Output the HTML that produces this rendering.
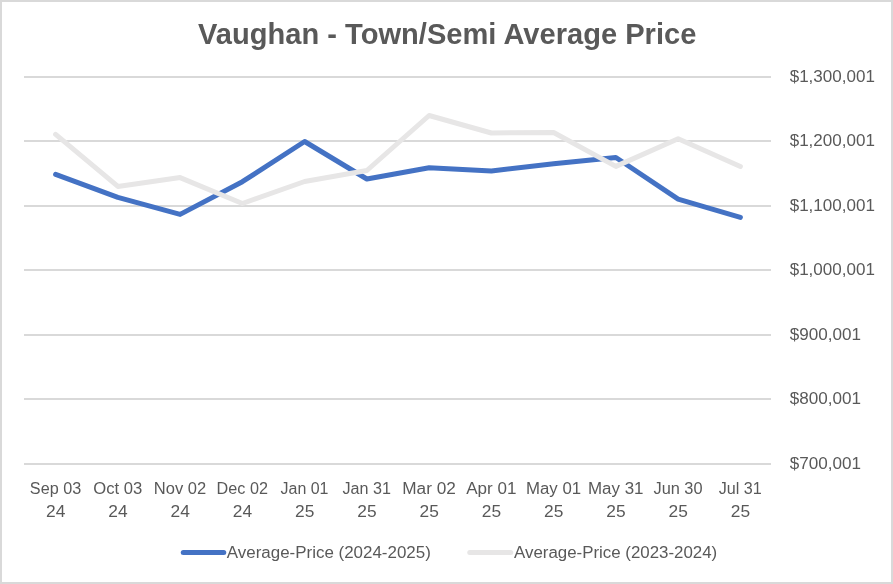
<!DOCTYPE html>
<html><head><meta charset="utf-8"><title>Vaughan - Town/Semi Average Price</title>
<style>html,body{margin:0;padding:0;background:#fff;}svg{display:block;will-change:transform;}text{font-family:"Liberation Sans",sans-serif;}</style></head><body>
<svg width="893" height="584" viewBox="0 0 893 584">
<rect x="0" y="0" width="893" height="584" fill="#ffffff"/>
<rect x="1" y="1" width="891" height="582" fill="none" stroke="#d9d9d9" stroke-width="2"/>
<rect x="24" y="76" width="747" height="2" fill="#d9d9d9"/>
<rect x="24" y="140" width="747" height="2" fill="#d9d9d9"/>
<rect x="24" y="205" width="747" height="2" fill="#d9d9d9"/>
<rect x="24" y="269" width="747" height="2" fill="#d9d9d9"/>
<rect x="24" y="334" width="747" height="2" fill="#d9d9d9"/>
<rect x="24" y="398" width="747" height="2" fill="#d9d9d9"/>
<rect x="24" y="463" width="747" height="2" fill="#d9d9d9"/>
<polyline points="55.62,174.40 117.88,197.40 180.12,214.40 242.38,181.70 304.62,141.50 366.88,179.00 429.12,167.70 491.38,171.00 553.62,163.70 615.88,157.50 678.12,199.10 740.38,217.40" fill="none" stroke="#4472c4" stroke-width="5" stroke-linecap="round" stroke-linejoin="round"/>
<polyline points="55.62,134.30 117.88,186.40 180.12,177.60 242.38,203.50 304.62,181.50 366.88,170.50 429.12,115.50 491.38,133.00 553.62,132.50 615.88,166.40 678.12,138.70 740.38,166.50" fill="none" stroke="#e7e6e6" stroke-width="5" stroke-linecap="round" stroke-linejoin="round"/>
<text x="447.2" y="43.8" text-anchor="middle" font-size="29.6" font-weight="bold" fill="#595959" textLength="498.3" lengthAdjust="spacingAndGlyphs">Vaughan - Town/Semi Average Price</text>
<text x="789.7" y="82.3" font-size="16" fill="#595959" textLength="85.2" lengthAdjust="spacingAndGlyphs">$1,300,001</text>
<text x="789.7" y="146.3" font-size="16" fill="#595959" textLength="85.2" lengthAdjust="spacingAndGlyphs">$1,200,001</text>
<text x="789.7" y="211.3" font-size="16" fill="#595959" textLength="85.2" lengthAdjust="spacingAndGlyphs">$1,100,001</text>
<text x="789.7" y="275.3" font-size="16" fill="#595959" textLength="85.2" lengthAdjust="spacingAndGlyphs">$1,000,001</text>
<text x="789.7" y="340.3" font-size="16" fill="#595959" textLength="71.2" lengthAdjust="spacingAndGlyphs">$900,001</text>
<text x="789.7" y="404.3" font-size="16" fill="#595959" textLength="71.2" lengthAdjust="spacingAndGlyphs">$800,001</text>
<text x="789.7" y="469.3" font-size="16" fill="#595959" textLength="71.2" lengthAdjust="spacingAndGlyphs">$700,001</text>
<text x="29.88" y="493.5" font-size="16" fill="#595959" textLength="51.3" lengthAdjust="spacingAndGlyphs">Sep 03</text>
<text x="46.08" y="516.6" font-size="16" fill="#595959" textLength="19.3" lengthAdjust="spacingAndGlyphs">24</text>
<text x="93.28" y="493.5" font-size="16" fill="#595959" textLength="49.0" lengthAdjust="spacingAndGlyphs">Oct 03</text>
<text x="108.32" y="516.6" font-size="16" fill="#595959" textLength="19.3" lengthAdjust="spacingAndGlyphs">24</text>
<text x="153.83" y="493.5" font-size="16" fill="#595959" textLength="52.4" lengthAdjust="spacingAndGlyphs">Nov 02</text>
<text x="170.57" y="516.6" font-size="16" fill="#595959" textLength="19.3" lengthAdjust="spacingAndGlyphs">24</text>
<text x="216.62" y="493.5" font-size="16" fill="#595959" textLength="51.3" lengthAdjust="spacingAndGlyphs">Dec 02</text>
<text x="232.82" y="516.6" font-size="16" fill="#595959" textLength="19.3" lengthAdjust="spacingAndGlyphs">24</text>
<text x="280.57" y="493.5" font-size="16" fill="#595959" textLength="47.9" lengthAdjust="spacingAndGlyphs">Jan 01</text>
<text x="295.08" y="516.6" font-size="16" fill="#595959" textLength="19.3" lengthAdjust="spacingAndGlyphs">25</text>
<text x="342.57" y="493.5" font-size="16" fill="#595959" textLength="48.4" lengthAdjust="spacingAndGlyphs">Jan 31</text>
<text x="357.33" y="516.6" font-size="16" fill="#595959" textLength="19.3" lengthAdjust="spacingAndGlyphs">25</text>
<text x="402.22" y="493.5" font-size="16" fill="#595959" textLength="53.6" lengthAdjust="spacingAndGlyphs">Mar 02</text>
<text x="419.58" y="516.6" font-size="16" fill="#595959" textLength="19.3" lengthAdjust="spacingAndGlyphs">25</text>
<text x="466.17" y="493.5" font-size="16" fill="#595959" textLength="50.2" lengthAdjust="spacingAndGlyphs">Apr 01</text>
<text x="481.83" y="516.6" font-size="16" fill="#595959" textLength="19.3" lengthAdjust="spacingAndGlyphs">25</text>
<text x="525.98" y="493.5" font-size="16" fill="#595959" textLength="55.1" lengthAdjust="spacingAndGlyphs">May 01</text>
<text x="544.08" y="516.6" font-size="16" fill="#595959" textLength="19.3" lengthAdjust="spacingAndGlyphs">25</text>
<text x="588.02" y="493.5" font-size="16" fill="#595959" textLength="55.5" lengthAdjust="spacingAndGlyphs">May 31</text>
<text x="606.33" y="516.6" font-size="16" fill="#595959" textLength="19.3" lengthAdjust="spacingAndGlyphs">25</text>
<text x="653.48" y="493.5" font-size="16" fill="#595959" textLength="49.1" lengthAdjust="spacingAndGlyphs">Jun 30</text>
<text x="668.58" y="516.6" font-size="16" fill="#595959" textLength="19.3" lengthAdjust="spacingAndGlyphs">25</text>
<text x="718.77" y="493.5" font-size="16" fill="#595959" textLength="43.0" lengthAdjust="spacingAndGlyphs">Jul 31</text>
<text x="730.83" y="516.6" font-size="16" fill="#595959" textLength="19.3" lengthAdjust="spacingAndGlyphs">25</text>
<line x1="183.25" y1="552.5" x2="223.75" y2="552.5" stroke="#4472c4" stroke-width="5" stroke-linecap="round"/>
<text x="226.8" y="557.8" font-size="16" fill="#595959" textLength="204" lengthAdjust="spacingAndGlyphs">Average-Price (2024-2025)</text>
<line x1="469.75" y1="552.5" x2="510.75" y2="552.5" stroke="#e7e6e6" stroke-width="5" stroke-linecap="round"/>
<text x="514.0" y="557.8" font-size="16" fill="#595959" textLength="203.2" lengthAdjust="spacingAndGlyphs">Average-Price (2023-2024)</text>
</svg></body></html>
